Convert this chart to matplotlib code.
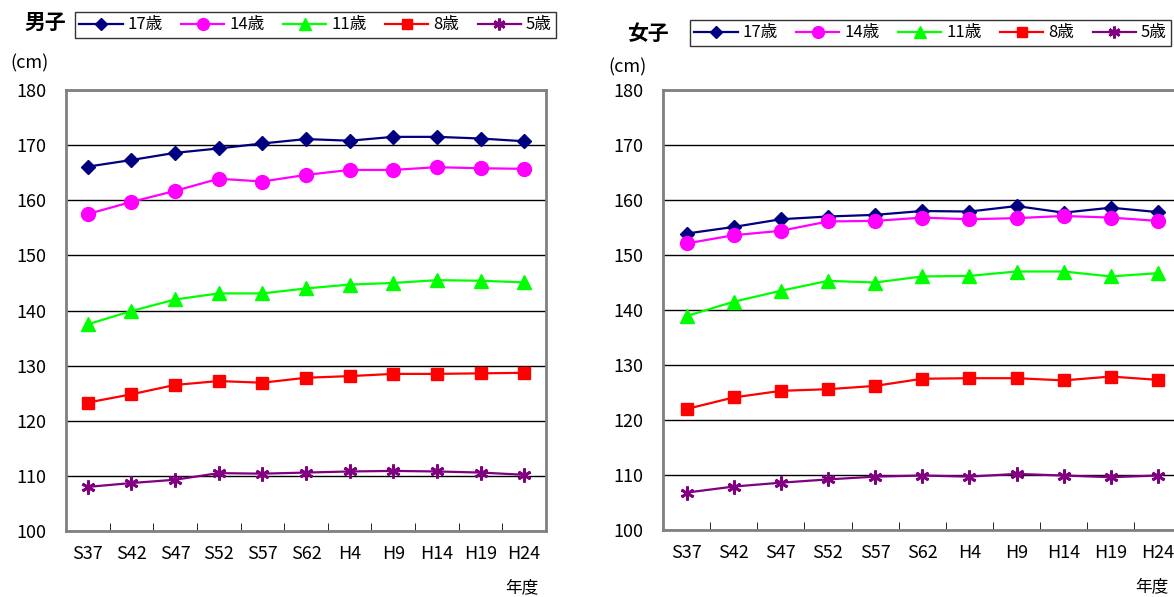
# 身長の推移 (男子 / 女子), 年度別
import numpy as np
import matplotlib.pyplot as plt

plt.rcParams['font.family'] = ['Noto Sans CJK JP', 'DejaVu Sans']

years = ['S37', 'S42', 'S47', 'S52', 'S57', 'S62', 'H4', 'H9', 'H14', 'H19', 'H24']
ages = ['17歳', '14歳', '11歳', '8歳', '5歳']

# 男子 (cm)
boys_17 = [166.1, 167.3, 168.6, 169.4, 170.3, 171.1, 170.8, 171.5, 171.5, 171.2, 170.7]
boys_14 = [157.5, 159.7, 161.7, 163.9, 163.4, 164.6, 165.5, 165.5, 166.0, 165.8, 165.7]
boys_11 = [137.5, 139.9, 142.0, 143.1, 143.1, 144.0, 144.7, 145.0, 145.5, 145.4, 145.1]
boys_8 = [123.3, 124.8, 126.5, 127.2, 126.9, 127.8, 128.1, 128.5, 128.5, 128.6, 128.7]
boys_5 = [108.0, 108.7, 109.3, 110.5, 110.4, 110.6, 110.8, 110.9, 110.8, 110.6, 110.2]

# 女子 (cm)
girls_17 = [153.9, 155.1, 156.5, 157.0, 157.3, 158.0, 157.9, 158.9, 157.7, 158.6, 157.8]
girls_14 = [152.1, 153.6, 154.4, 156.1, 156.2, 156.8, 156.5, 156.7, 157.1, 156.8, 156.2]
girls_11 = [138.9, 141.5, 143.5, 145.3, 145.0, 146.1, 146.2, 147.0, 147.0, 146.1, 146.7]
girls_8 = [122.0, 124.1, 125.3, 125.6, 126.2, 127.5, 127.6, 127.6, 127.2, 127.9, 127.3]
girls_5 = [106.8, 107.9, 108.6, 109.2, 109.7, 109.9, 109.7, 110.2, 109.9, 109.6, 109.9]

colors = ['#000080', '#FF00FF', '#00FF00', '#FF0000', '#800080']
markers = ['D', 'o', '^', 's', (6, 2, 0)]
msizes = [7.5, 10, 10, 9, 10]

W, H = 1174, 597
fig = plt.figure(figsize=(W / 100, H / 100), dpi=100)

def draw(rect, series, title, title_xy, leg_xy, cm_xy, nendo_xy):
    ax = fig.add_axes(rect)
    x = np.arange(len(years))
    for vals, lab, c, m, ms in zip(series, ages, colors, markers, msizes):
        ax.plot(x, vals, color=c, lw=1.6, marker=m, ms=ms, mew=2 if m == (6, 2, 0) else 1,
                mec=c, mfc=c, label=lab, clip_on=False, zorder=3)
    ax.set_xlim(-0.5, len(years) - 0.5)
    ax.set_ylim(100, 180)
    ax.set_yticks(range(100, 181, 10))
    ax.set_yticklabels([str(v) for v in range(100, 181, 10)], fontsize=13)
    ax.yaxis.grid(True, color='black', lw=1)
    ax.set_axisbelow(True)
    ax.set_xticks(x)
    ax.set_xticklabels(years, fontsize=13)
    ax.tick_params(axis='x', length=0, pad=10)
    ax.set_xticks(np.arange(0.5, len(years) - 1, 1), minor=True)
    ax.tick_params(axis='x', which='minor', direction='in', length=6, color='black')
    ax.tick_params(axis='y', length=0, pad=14)
    for s in ax.spines.values():
        s.set_color('#808080')
        s.set_linewidth(2)
    fig.text(title_xy[0] / W, 1 - title_xy[1] / H, title, fontsize=15, fontweight='bold',
             ha='center', va='center')
    fig.text(cm_xy[0] / W, 1 - cm_xy[1] / H, '(cm)', fontsize=13, ha='center', va='center')
    fig.text(nendo_xy[0] / W, 1 - nendo_xy[1] / H, '年度', fontsize=12, ha='center', va='center')
    leg = ax.legend(loc='center left', bbox_to_anchor=(leg_xy[0] / W, 1 - leg_xy[1] / H),
                    bbox_transform=fig.transFigure, ncol=5, frameon=True, fancybox=False,
                    edgecolor='black', fontsize=12, handlelength=2.6, handletextpad=0.3,
                    columnspacing=1.1, borderpad=0.25, borderaxespad=0, markerscale=0.85)
    leg.get_frame().set_linewidth(1)
    return ax

draw([66 / W, 66 / H, 480 / W, 441 / H],
     [boys_17, boys_14, boys_11, boys_8, boys_5],
     '男子', (45, 22), (75, 25), (30, 63), (522, 588))
draw([663 / W, 67 / H, 518.5 / W, 440 / H],
     [girls_17, girls_14, girls_11, girls_8, girls_5],
     '女子', (648, 33), (690, 33), (628, 67), (1152, 587))

fig.savefig('out.png', dpi=100)
